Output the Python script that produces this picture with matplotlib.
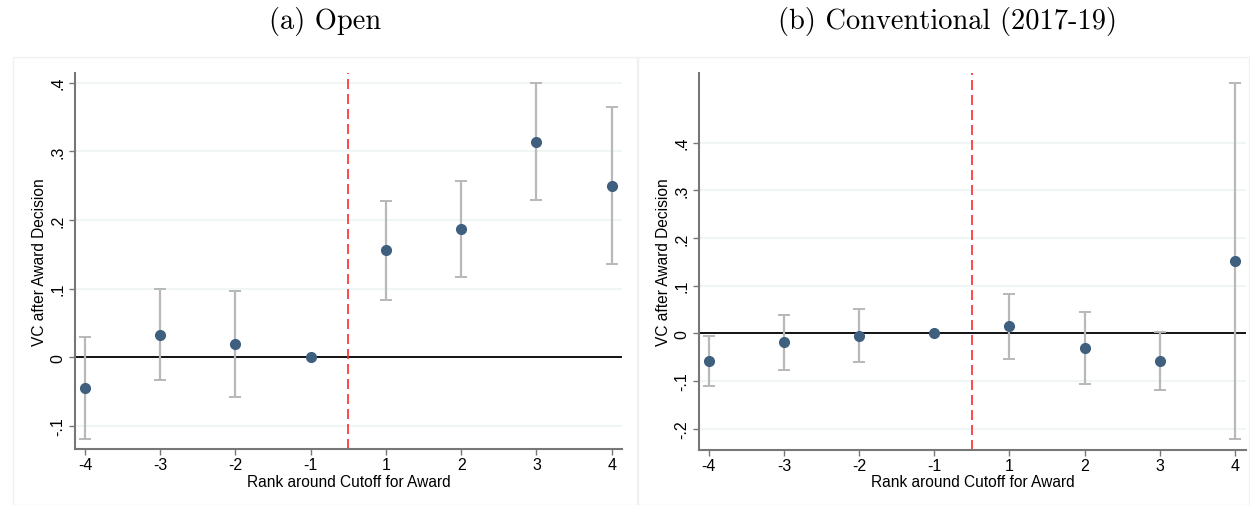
import matplotlib.pyplot as plt
from matplotlib.patches import Rectangle
from matplotlib.ticker import FuncFormatter

ranks = ['-4', '-3', '-2', '-1', '1', '2', '3', '4']

open_est = [-0.045, 0.0325, 0.019, 0.0, 0.156, 0.187, 0.314, 0.250]
open_lo = [-0.119, -0.0335, -0.058, None, 0.083, 0.117, 0.229, 0.136]
open_hi = [0.030, 0.099, 0.097, None, 0.228, 0.257, 0.399, 0.364]

conv_est = [-0.059, -0.018, -0.005, 0.0, 0.015, -0.031, -0.057, 0.151]
conv_lo = [-0.111, -0.076, -0.061, None, -0.054, -0.106, -0.118, -0.222]
conv_hi = [-0.006, 0.039, 0.052, None, 0.083, 0.044, 0.003, 0.525]

open_yticks = [-0.1, 0, 0.1, 0.2, 0.3, 0.4]
conv_yticks = [-0.2, -0.1, 0, 0.1, 0.2, 0.3, 0.4]

titles = ['(a) Open', '(b) Conventional (2017-19)']

plt.rcParams['font.family'] = ['Liberation Sans', 'DejaVu Sans']

fig = plt.figure(figsize=(12.5, 5.06), dpi=100)

# light panel frames
fig.patches.append(Rectangle((13 / 1250, 0), 624 / 1250, 1 - 58 / 506,
                             transform=fig.transFigure, fill=False,
                             edgecolor='#f0f0f0', linewidth=1))
fig.patches.append(Rectangle((638 / 1250, 0), 611 / 1250, 1 - 58 / 506,
                             transform=fig.transFigure, fill=False,
                             edgecolor='#f0f0f0', linewidth=1))

ax1 = fig.add_axes([0.06, 0.1107, 0.4376, 0.7431])
ax2 = fig.add_axes([0.5592, 0.1093, 0.4374, 0.7445])


def fmt(v, pos):
    if abs(v) < 1e-9:
        return '0'
    s = ('%.1f' % v)
    return s.replace('0.', '.')


def draw(ax, est, lo, hi, yticks, ylim, xlim, title, title_x):
    pos = list(range(len(ranks)))
    for y in yticks:
        ax.axhline(y, color='#edf3f4', linewidth=1.2, zorder=0)
    ax.axhline(0, color='black', linewidth=1.3, zorder=1)
    ax.axvline(3.5, color='#ff2a2a', linewidth=1.2, dashes=(6, 3), zorder=1)
    for i in pos:
        if lo[i] is not None:
            ax.errorbar([i], [est[i]], yerr=[[est[i] - lo[i]], [hi[i] - est[i]]],
                        fmt='none', ecolor='#b8b8b8', elinewidth=1.6,
                        capsize=4, capthick=1.4, zorder=2)
    ax.plot(pos, est, 'o', color='#3f5f7f', markersize=7, zorder=3)
    ax.set_xlim(*xlim)
    ax.set_ylim(*ylim)
    ax.set_xticks(pos)
    ax.set_xticklabels(ranks, fontsize=11.5)
    ax.set_yticks(yticks)
    ax.yaxis.set_major_formatter(FuncFormatter(fmt))
    for lab in ax.get_yticklabels():
        lab.set_rotation(90)
        lab.set_va('center')
        lab.set_fontsize(11.5)
    ax.tick_params(axis='both', color='#777777', length=4, width=1)
    ax.tick_params(axis='x', pad=2)
    ax.tick_params(axis='y', pad=3)
    for s in ['top', 'right']:
        ax.spines[s].set_visible(False)
    for s in ['left', 'bottom']:
        ax.spines[s].set_color('#777777')
        ax.spines[s].set_linewidth(1.5)
    ax.set_xlabel('Rank around Cutoff for Award', fontsize=11.2, labelpad=1)
    ax.set_ylabel('VC after Award Decision', fontsize=11.2, labelpad=2)
    fig.text(title_x, 1 - 22 / 506, title, family='cmr10', fontsize=20.5,
             ha='center', va='center')


draw(ax1, open_est, open_lo, open_hi, open_yticks, (-0.1335, 0.414),
     (-0.133, 7.137), titles[0], 325 / 1250)
draw(ax2, conv_est, conv_lo, conv_hi, conv_yticks, (-0.244, 0.546),
     (-0.129, 7.142), titles[1], 948 / 1250)

fig.savefig('out.png', dpi=100)
